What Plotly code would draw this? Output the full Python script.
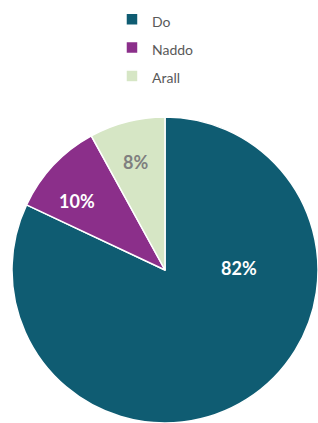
import plotly.graph_objects as go

labels = ["Do", "Naddo", "Arall"]
values = [82, 10, 8]
colors = ["#0F5C72", "#8B2F8A", "#D6E6C5"]
label_colors = ["#FFFFFF", "#FFFFFF", "#7F7F7F"]
# label anchor positions in paper coordinates (layout only)
label_pos = [(0.753, 0.366), (0.242, 0.526), (0.425, 0.616)]

W, H = 318, 423
total = sum(values)

fig = go.Figure()
fig.add_trace(go.Pie(
    labels=["<span style='font-size:14px'>%s</span>" % l for l in labels],
    values=values,
    sort=False,
    direction="clockwise",
    rotation=0,
    marker=dict(colors=colors, line=dict(color="white", width=1.5)),
    textinfo="none",
    hoverinfo="label+percent",
    domain=dict(x=[12 / W, 1.0], y=[0.0, 306 / H]),
))

for v, c, (x, y) in zip(values, label_colors, label_pos):
    fig.add_annotation(
        x=x, y=y, xref="paper", yref="paper",
        xanchor="center", yanchor="middle",
        text="<b>%d%%</b>" % round(100 * v / total),
        showarrow=False,
        font=dict(family="Lato", size=18, color=c),
    )

fig.update_layout(
    width=W, height=H,
    margin=dict(l=0, r=0, t=0, b=0, autoexpand=False),
    paper_bgcolor="white",
    plot_bgcolor="white",
    font=dict(family="Lato", color="#595959"),
    showlegend=True,
    legend=dict(
        orientation="v",
        x=0.3836, xanchor="left",
        y=1.0, yanchor="top",
        indentation=-10,
        font=dict(family="Lato", size=19.5, color="#595959"),
        bgcolor="rgba(0,0,0,0)",
    ),
)

fig.write_html(
    "out.html",
    config={"displayModeBar": False},
    post_script="document.body.style.margin='0';document.body.style.overflow='hidden';",
)
